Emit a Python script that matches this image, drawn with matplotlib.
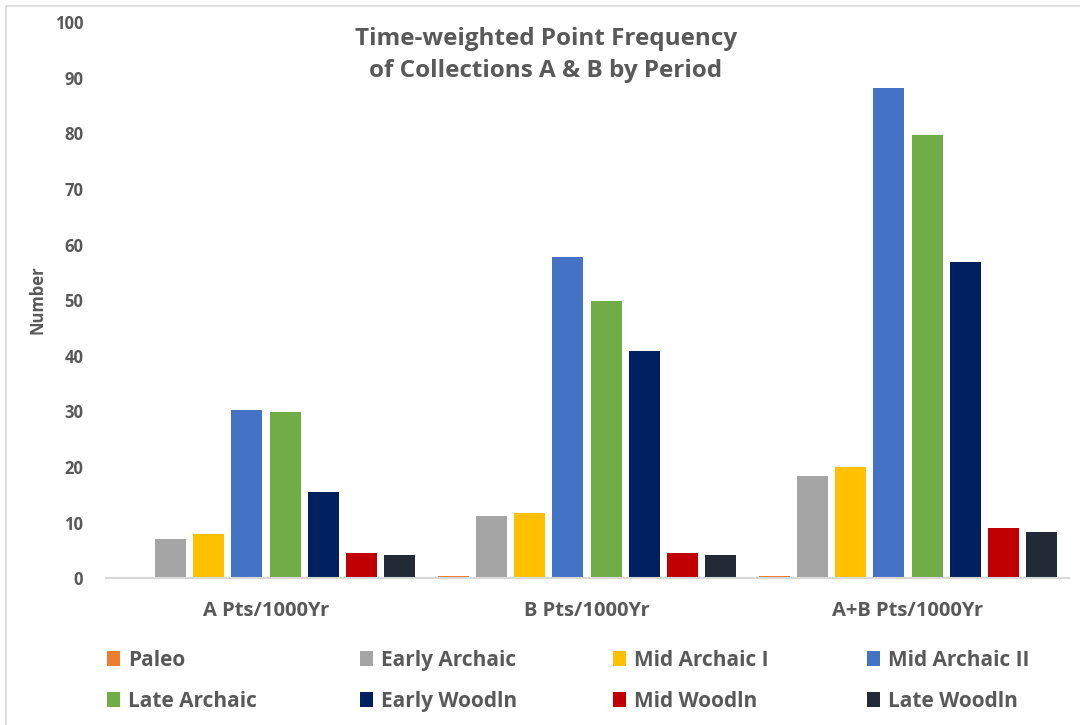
import matplotlib
matplotlib.use("Agg")
import matplotlib.pyplot as plt
import numpy as np
from matplotlib.patches import Patch
from matplotlib.lines import Line2D

categories = ["A Pts/1000Yr", "B Pts/1000Yr", "A+B Pts/1000Yr"]
periods = ["Paleo", "Early Archaic", "Mid Archaic I", "Mid Archaic II",
           "Late Archaic", "Early Woodln", "Mid Woodln", "Late Woodln"]
paleo = [0.0, 0.35, 0.4]
early_archaic = [7.1, 11.2, 18.4]
mid_archaic_1 = [8.0, 11.8, 20.0]
mid_archaic_2 = [30.2, 57.8, 88.1]
late_archaic = [29.9, 49.9, 79.7]
early_woodln = [15.6, 40.8, 56.9]
mid_woodln = [4.5, 4.5, 9.1]
late_woodln = [4.2, 4.2, 8.3]
yticks = [0, 10, 20, 30, 40, 50, 60, 70, 80, 90, 100]

series = [paleo, early_archaic, mid_archaic_1, mid_archaic_2,
          late_archaic, early_woodln, mid_woodln, late_woodln]
colors = ["#ED7D31", "#A5A5A5", "#FFC000", "#4472C4",
          "#70AD47", "#002060", "#C00000", "#222A35"]

txt = "#595959"
font = "Open Sans"

fig = plt.figure(figsize=(10.8, 7.25), dpi=100)
ax = fig.add_axes([105.5 / 1080, (725 - 578.3) / 725, 963 / 1080, 556.3 / 725])

x = np.arange(len(categories))
step = 0.119
width = 0.0966
for i, (vals, c) in enumerate(zip(series, colors)):
    offs = (i - 3.5) * step
    ax.bar(x + offs, vals, width=width, color=c, linewidth=0,
           label=periods[i], zorder=2)

ax.set_xlim(-0.5, len(categories) - 0.5)
ax.set_ylim(0, 100)
ax.set_yticks(yticks)
ax.set_yticklabels([str(t) for t in yticks], fontsize=12, fontweight="bold",
                   color=txt, family=font)
ax.set_xticks(x)
ax.set_xticklabels(categories, fontsize=14.5, fontweight="bold", color=txt,
                   family=font)
ax.tick_params(axis="both", length=0)
ax.tick_params(axis="y", pad=16)
ax.tick_params(axis="x", pad=16)
for s in ["top", "right", "left"]:
    ax.spines[s].set_visible(False)
ax.spines["bottom"].set_color("#D9D9D9")
ax.spines["bottom"].set_linewidth(1.5)
ax.spines["bottom"].set_zorder(3)

fig.text(38 / 1080, 1 - 300 / 725, "Number", rotation=90, ha="center",
         va="center", fontsize=12, fontweight="bold", color=txt, family=font)

fig.text(546 / 1080, 1 - 55 / 725,
         "Time-weighted Point Frequency\nof Collections A & B by Period",
         ha="center", va="center", fontsize=17.5, fontweight="bold",
         color=txt, family=font, linespacing=1.45)

# legend: four columns, row-major order
col_x = [107, 360, 613, 867]
for c in range(4):
    idx = [c, c + 4]
    handles = [Patch(facecolor=colors[j], edgecolor="none") for j in idx]
    labels = [periods[j] for j in idx]
    fig.legend(handles, labels, loc="center left",
               bbox_to_anchor=(col_x[c] / 1080, 1 - 681 / 725),
               frameon=False, borderpad=0, borderaxespad=0,
               handlelength=0.62, handleheight=0.72, handletextpad=0.4,
               labelspacing=0.95,
               prop={"family": font, "weight": "bold", "size": 15},
               labelcolor=txt)

# chart border (top and left)
fig.add_artist(Line2D([5.5 / 1080, 1], [1 - 5.5 / 725, 1 - 5.5 / 725],
                      color="#D9D9D9", lw=1.2, transform=fig.transFigure))
fig.add_artist(Line2D([5.5 / 1080, 5.5 / 1080], [0, 1 - 5.5 / 725],
                      color="#D9D9D9", lw=1.2, transform=fig.transFigure))

fig.savefig("out.png", dpi=100)
